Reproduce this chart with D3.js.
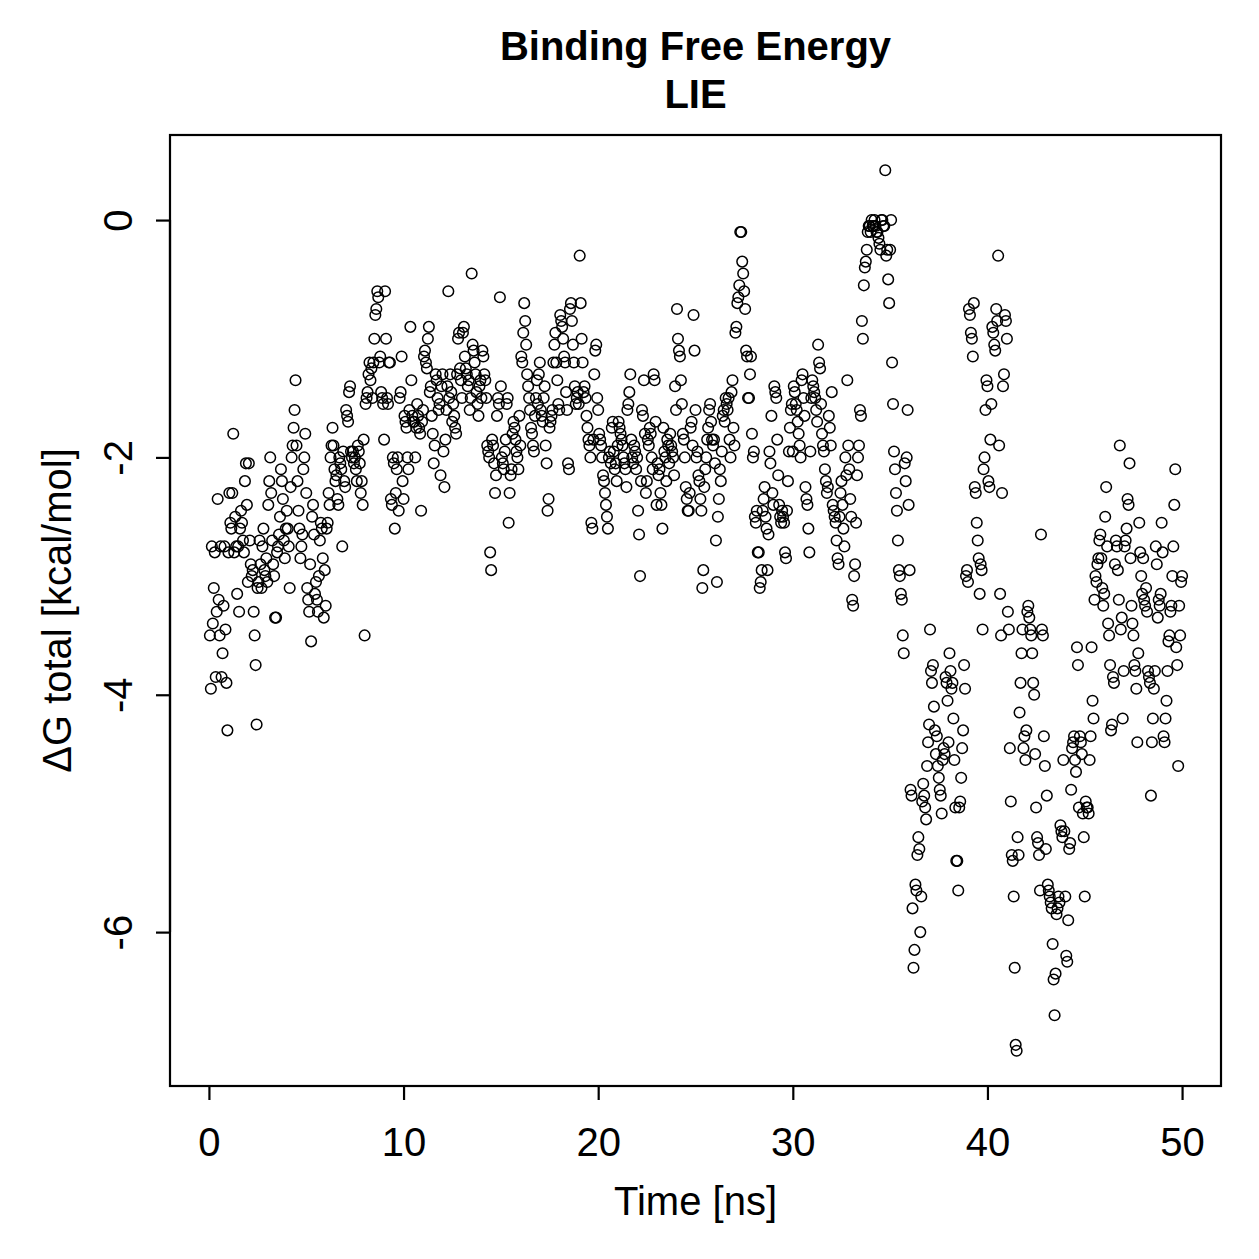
<!DOCTYPE html>
<html>
<head>
<meta charset="utf-8">
<script src="https://cdn.jsdelivr.net/npm/d3@7"></script>
<style>
  html, body { margin: 0; padding: 0; background: #fff; }
  svg { display: block; }
  text { font-family: "Liberation Sans", Arial, Helvetica, sans-serif; fill: #000; }
</style>
</head>
<body>
<svg id="chart" width="1259" height="1259"></svg>
<script>
// ---- Data: ΔG total (kcal/mol), one row per nanosecond (frames every 0.05 ns) ----
const dG_00_10 = [
  [-3.5,-3.95,-2.75,-3.4,-3.1,-2.8,-3.85,-3.3,-2.35,-3.2,-3.5,-2.75,-3.85,-3.65,-3.25,-2.75,-3.45,-3.9,-4.3,-2.8],
  [-2.3,-2.55,-2.6,-2.3,-1.8,-2.8,-2.5,-2.75,-3.15,-2.75,-3.3,-2.6,-2.45,-2.55,-2.7,-2.8,-2.2,-2.05,-2.4,-3.05],
  [-2.05,-2.7,-2.9,-3.0,-2.95,-3.3,-3.5,-3.75,-4.25,-3.1,-3.05,-2.7,-2.9,-3.1,-2.75,-2.6,-2.95,-3.0,-2.85,-3.05],
  [-2.4,-2.2,-2.0,-2.3,-2.7,-2.9,-3.0,-3.35,-3.35,-2.8,-2.75,-2.65,-2.5,-2.1,-2.2,-2.35,-2.7,-2.85,-2.6,-2.45],
  [-2.6,-2.75,-3.1,-2.25,-2.0,-1.9,-1.75,-1.6,-1.35,-1.9,-2.2,-2.45,-2.6,-2.85,-2.75,-2.65,-2.1,-2.0,-1.8,-2.3],
  [-3.1,-3.2,-3.3,-2.9,-3.55,-2.5,-2.4,-2.65,-3.15,-3.05,-3.2,-3.3,-3.0,-2.7,-2.55,-2.6,-2.85,-3.35,-2.95,-3.25],
  [-2.6,-2.55,-2.3,-2.4,-2.0,-1.9,-1.75,-1.9,-2.1,-2.2,-2.15,-2.35,-2.4,-2.0,-2.05,-2.1,-2.75,-1.95,-2.2,-2.25],
  [-1.6,-1.65,-1.7,-1.45,-1.4,-1.95,-2.0,-1.95,-2.05,-2.0,-2.1,-2.2,-1.9,-1.95,-2.05,-2.3,-2.2,-2.4,-1.85,-3.5],
  [-1.55,-1.5,-1.45,-1.3,-1.2,-1.35,-1.25,-1.5,-1.2,-1.0,-0.8,-0.75,-0.6,-0.65,-1.2,-1.15,-1.45,-1.5,-1.55,-1.85],
  [-0.6,-1.0,-1.5,-1.55,-1.2,-1.2,-2.35,-2.4,-2.0,-2.05,-2.6,-2.3,-2.1,-2.0,-2.45,-1.5,-1.45,-1.15,-2.2,-2.35]
];
const dG_10_20 = [
  [-1.65,-1.7,-1.75,-2.0,-2.1,-1.6,-0.9,-1.35,-1.65,-1.7,-1.7,-2.0,-1.75,-1.55,-1.65,-1.75,-1.8,-2.45,-1.7,-1.6],
  [-1.15,-1.1,-1.2,-1.25,-1.0,-0.9,-1.45,-1.4,-1.65,-1.8,-2.05,-1.9,-1.3,-1.35,-1.5,-1.6,-1.55,-2.15,-1.4,-1.3],
  [-1.95,-2.25,-1.85,-1.6,-1.4,-0.6,-1.5,-1.3,-1.45,-1.7,-1.55,-1.65,-1.75,-1.8,-1.3,-1.0,-0.95,-1.25,-1.35,-1.5],
  [-0.95,-0.9,-1.15,-1.25,-1.3,-1.4,-1.35,-1.6,-1.5,-0.45,-1.05,-1.1,-1.2,-1.3,-1.45,-1.55,-1.65,-1.4,-1.35,-1.5],
  [-1.1,-1.15,-1.3,-1.35,-1.5,-1.9,-1.95,-2.0,-2.8,-2.95,-1.85,-1.9,-2.05,-2.3,-2.15,-1.65,-1.5,-1.55,-0.65,-1.4],
  [-2.0,-2.05,-2.1,-1.95,-1.85,-1.55,-1.5,-2.55,-2.3,-2.15,-2.1,-1.8,-1.7,-1.75,-1.85,-1.95,-2.0,-2.1,-1.65,-1.9],
  [-1.15,-1.2,-0.95,-0.7,-0.85,-1.05,-1.3,-1.4,-1.5,-1.6,-1.75,-1.8,-1.9,-1.95,-1.65,-1.5,-1.35,-1.55,-1.3,-1.2],
  [-1.6,-1.65,-1.7,-1.5,-1.4,-1.9,-2.05,-2.45,-2.35,-1.75,-1.7,-1.65,-1.6,-1.2,-1.05,-0.95,-1.2,-1.35,-1.55,-1.6],
  [-0.8,-0.85,-0.9,-1.0,-1.15,-1.2,-1.45,-1.6,-2.05,-2.1,-0.75,-0.7,-0.85,-1.05,-1.2,-1.4,-1.55,-1.5,-1.45,-1.55],
  [-0.3,-0.7,-1.0,-1.2,-1.45,-1.4,-1.5,-1.65,-1.75,-1.85,-1.9,-2.0,-2.55,-2.6,-1.85,-1.3,-1.1,-1.05,-1.5,-1.6]
];
const dG_20_30 = [
  [-1.8,-1.85,-1.9,-2.0,-2.15,-2.2,-2.3,-2.4,-2.5,-2.6,-2.0,-1.95,-2.05,-1.75,-1.7,-1.95,-2.1,-2.05,-2.2,-1.9],
  [-1.7,-1.75,-1.8,-1.85,-1.9,-2.0,-2.05,-2.1,-2.25,-1.6,-1.55,-1.45,-1.3,-1.85,-2.0,-2.05,-1.9,-1.95,-2.1,-2.0],
  [-2.45,-2.65,-3.0,-2.2,-1.6,-1.65,-1.35,-1.8,-2.3,-2.2,-1.85,-1.9,-1.75,-1.8,-2.0,-2.1,-1.3,-1.35,-1.7,-2.4],
  [-2.05,-2.15,-2.1,-2.3,-2.4,-2.6,-1.75,-1.95,-2.0,-2.2,-1.85,-1.9,-2.05,-1.8,-1.9,-1.95,-2.0,-2.15,-1.4,-1.6],
  [-0.75,-1.0,-1.1,-1.15,-1.35,-1.55,-1.8,-1.85,-2.0,-2.25,-2.35,-2.45,-2.45,-2.3,-1.75,-1.7,-1.9,-0.8,-1.1,-1.6],
  [-2.0,-1.95,-2.15,-2.2,-2.35,-2.45,-3.1,-2.95,-2.25,-2.1,-2.0,-1.85,-1.75,-1.6,-1.55,-1.7,-1.85,-1.9,-1.85,-2.05],
  [-2.7,-3.05,-2.5,-2.35,-2.1,-2.2,-1.95,-1.65,-1.6,-1.7,-1.5,-1.55,-1.6,-1.5,-1.85,-2.0,-1.45,-1.35,-1.75,-1.9],
  [-0.95,-0.9,-0.7,-0.65,-0.55,-0.1,-0.1,-0.35,-0.45,-0.6,-0.75,-1.1,-1.15,-1.5,-1.5,-1.3,-1.15,-1.8,-2.0,-1.95],
  [-2.5,-2.55,-2.45,-2.8,-2.8,-3.1,-3.05,-2.95,-2.45,-2.35,-2.25,-2.5,-2.6,-2.95,-2.65,-1.95,-2.05,-1.65,-2.3,-2.4],
  [-1.4,-1.45,-1.5,-1.85,-2.15,-2.4,-2.5,-2.55,-2.45,-2.5,-2.55,-2.8,-2.85,-2.45,-2.2,-1.95,-1.75,-1.6,-1.55,-1.95]
];
const dG_30_40 = [
  [-1.4,-1.45,-1.55,-1.6,-1.7,-1.8,-1.9,-2.0,-1.35,-1.3,-1.5,-1.65,-2.25,-2.35,-2.4,-2.6,-2.8,-1.95,-1.5,-1.35],
  [-1.4,-1.45,-1.5,-1.6,-1.7,-1.05,-1.2,-1.25,-1.55,-1.8,-1.9,-1.95,-2.1,-2.2,-2.3,-2.25,-1.65,-1.75,-1.9,-1.45],
  [-2.4,-2.45,-2.5,-2.55,-2.7,-2.85,-2.9,-2.5,-2.3,-2.2,-2.4,-2.6,-2.75,-2.0,-2.15,-1.35,-1.9,-2.1,-2.35,-2.5],
  [-3.2,-3.25,-3.0,-2.9,-2.55,-2.15,-2.0,-1.9,-1.6,-1.65,-0.85,-1.0,-0.55,-0.4,-0.35,-0.25,-0.1,-0.05,-0.05,-0.1],
  [0.0,-0.05,-0.05,0.0,-0.05,-0.1,-0.1,-0.15,-0.2,-0.25,0.0,0.0,-0.05,-0.05,0.42,-0.3,-0.25,-0.5,-0.7,-0.25],
  [0.0,-1.2,-1.55,-1.95,-2.1,-2.3,-2.45,-2.7,-2.95,-3.0,-3.15,-3.2,-3.5,-3.65,-2.05,-2.2,-2.0,-1.6,-2.4,-2.95],
  [-4.8,-4.85,-5.8,-6.3,-6.15,-5.6,-5.65,-5.35,-5.2,-5.3,-6.0,-5.7,-4.9,-4.75,-4.85,-4.95,-5.05,-4.6,-4.4,-4.25],
  [-3.45,-3.8,-3.9,-3.75,-4.1,-4.3,-4.5,-4.35,-4.6,-4.7,-4.8,-4.85,-5.0,-4.55,-4.45,-4.5,-3.85,-3.9,-4.05,-4.4],
  [-3.65,-3.8,-3.95,-3.9,-4.2,-4.55,-4.95,-5.4,-5.4,-5.65,-4.95,-4.9,-4.7,-4.45,-4.3,-3.75,-3.95,-3.0,-2.95,-3.05],
  [-0.75,-0.8,-0.95,-1.0,-1.15,-0.7,-2.25,-2.3,-2.55,-2.7,-2.85,-3.15,-2.9,-2.95,-3.45,-2.1,-2.0,-1.6,-1.35,-1.4]
];
const dG_40_50 = [
  [-2.2,-2.25,-1.85,-1.55,-0.9,-0.95,-1.05,-1.1,-0.75,-0.85,-0.3,-1.9,-3.15,-3.5,-2.3,-1.4,-1.3,-0.8,-0.85,-1.0],
  [-3.3,-3.45,-4.45,-4.9,-5.35,-5.4,-5.7,-6.3,-6.95,-7.0,-5.2,-5.35,-4.15,-3.9,-3.65,-3.45,-4.45,-4.35,-4.55,-4.3],
  [-3.3,-3.25,-3.35,-3.45,-3.5,-3.65,-3.9,-4.0,-4.5,-4.95,-5.2,-5.25,-5.35,-5.65,-2.65,-3.45,-3.5,-4.35,-4.6,-5.3],
  [-4.85,-5.6,-5.65,-5.7,-5.75,-5.8,-6.1,-6.4,-6.7,-6.35,-5.85,-5.8,-5.7,-5.75,-5.1,-5.15,-5.2,-4.55,-5.15,-5.7],
  [-6.2,-6.25,-5.9,-5.3,-5.25,-4.8,-4.45,-4.4,-4.35,-4.55,-4.65,-3.6,-3.75,-4.95,-4.35,-4.4,-4.5,-5.0,-5.2,-5.7],
  [-4.9,-4.95,-4.95,-5.0,-4.55,-4.35,-3.6,-4.05,-4.2,-3.2,-3.0,-3.05,-2.9,-2.85,-2.7,-2.65,-2.85,-3.1,-3.25,-3.15],
  [-2.5,-2.25,-2.75,-3.4,-3.5,-3.75,-4.3,-4.25,-3.85,-3.9,-2.9,-2.7,-2.75,-2.95,-3.2,-1.9,-3.45,-3.35,-4.2,-3.8],
  [-2.75,-2.7,-2.6,-2.35,-2.4,-2.05,-2.85,-3.25,-3.4,-3.5,-3.75,-3.8,-3.95,-4.4,-3.65,-2.55,-2.8,-3.0,-3.15,-2.85],
  [-3.2,-3.25,-3.1,-3.3,-3.8,-3.85,-3.9,-4.85,-4.4,-4.2,-3.95,-3.8,-2.75,-2.9,-3.35,-3.2,-3.25,-3.15,-2.55,-2.8],
  [-4.35,-4.4,-4.2,-4.05,-3.8,-3.55,-3.5,-3.3,-3.25,-3.0,-2.75,-2.4,-2.1,-3.6,-3.75,-4.6,-3.25,-3.5,-3.05,-3.0]
];
const xTicks = [0, 10, 20, 30, 40, 50];
const yTicks = [-6, -4, -2, 0];
const titleLines = ["Binding Free Energy", "LIE"];
const xLabel = "Time [ns]";
const yLabel = "ΔG total [kcal/mol]";

// Build points: row index = nanosecond, frames evenly within each ns
const rows = [].concat(dG_00_10, dG_10_20, dG_20_30, dG_30_40, dG_40_50);
const points = [];
rows.forEach((row, ns) => {
  row.forEach((v, j) => points.push({ t: ns + (j + 1) / row.length, v }));
});

// ---- Layout ----
const svg = d3.select("#chart");
const plot = { left: 170, right: 1221, top: 135, bottom: 1086 };

const tExt = d3.extent(points, d => d.t), vExt = d3.extent(points, d => d.v);
const padT = 0.04 * (50 - 0), padV = 0.04 * (vExt[1] - vExt[0]);
const x = d3.scaleLinear().domain([0 - padT, 50 + padT]).range([plot.left, plot.right]);
const y = d3.scaleLinear().domain([vExt[0] - padV, vExt[1] + padV]).range([plot.bottom, plot.top]);

// Points
svg.append("g").selectAll("circle").data(points).join("circle")
  .attr("cx", d => x(d.t)).attr("cy", d => y(d.v)).attr("r", 5.3)
  .attr("fill", "none").attr("stroke", "#000").attr("stroke-width", 1.5);

// Box
svg.append("rect")
  .attr("x", plot.left).attr("y", plot.top)
  .attr("width", plot.right - plot.left).attr("height", plot.bottom - plot.top)
  .attr("fill", "none").attr("stroke", "#000").attr("stroke-width", 2.2);

// X axis
const xAxis = d3.axisBottom(x).tickValues(xTicks).tickSize(14).tickPadding(0).tickFormat(d3.format("d"));
const gx = svg.append("g").attr("transform", `translate(0,${plot.bottom})`).call(xAxis);
gx.select(".domain").attr("d", `M${x(0)},0H${x(50)}`).attr("stroke-width", 2.2);
gx.selectAll(".tick line").attr("stroke-width", 2.2);
gx.selectAll(".tick text").attr("font-size", 40).attr("y", 70).attr("dy", 0)
  .attr("font-family", "Liberation Sans, Arial, sans-serif");

// Y axis
const yAxis = d3.axisLeft(y).tickValues(yTicks).tickSize(14).tickFormat(d => d3.format("d")(d).replace("−", "-"));
const gy = svg.append("g").attr("transform", `translate(${plot.left},0)`).call(yAxis);
gy.select(".domain").attr("d", `M0,${y(-6)}V${y(0)}`).attr("stroke-width", 2.2);
gy.selectAll(".tick line").attr("stroke-width", 2.2);
gy.selectAll(".tick text")
  .attr("font-size", 40).attr("font-family", "Liberation Sans, Arial, sans-serif")
  .attr("x", 0).attr("dy", 0).attr("text-anchor", "middle")
  .attr("transform", "translate(-38,0) rotate(-90)");

// Titles
svg.append("g").selectAll("text").data(titleLines).join("text")
  .attr("x", (plot.left + plot.right) / 2).attr("y", (d, i) => 60 + i * 48)
  .attr("text-anchor", "middle").attr("font-size", 40).attr("font-weight", "bold")
  .text(d => d);

svg.append("text")
  .attr("x", (plot.left + plot.right) / 2).attr("y", 1215)
  .attr("text-anchor", "middle").attr("font-size", 40).text(xLabel);

svg.append("text")
  .attr("transform", `translate(71,${(plot.top + plot.bottom) / 2}) rotate(-90)`)
  .attr("text-anchor", "middle").attr("font-size", 40).text(yLabel);
</script>
</body>
</html>
